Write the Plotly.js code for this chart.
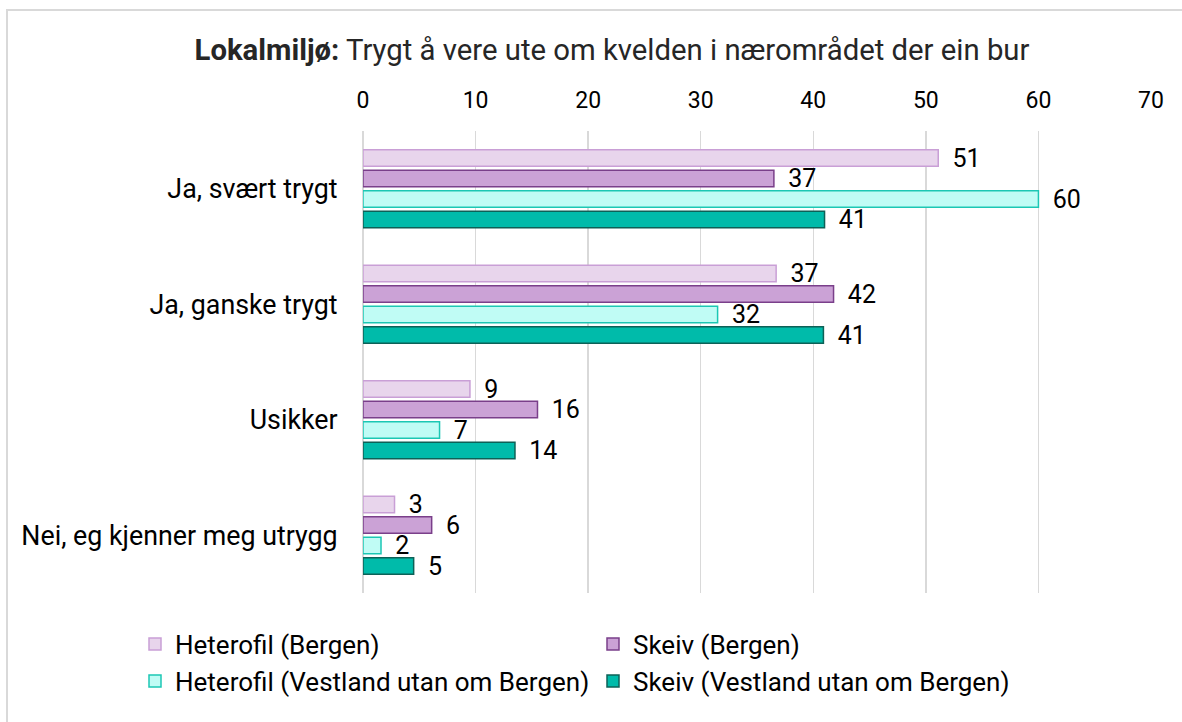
<!DOCTYPE html>
<html>
<head>
<meta charset="utf-8">
<script src="https://cdn.plot.ly/plotly-3.0.1.min.js"></script>
<style>html,body{margin:0;padding:0;background:#fff;}#chart{width:1182px;height:722px;}</style>
</head>
<body>
<div id="chart"></div>
<script>
const categories = ["Ja, svært trygt", "Ja, ganske trygt", "Usikker", "Nei, eg kjenner meg utrygg"];
const seriesNames = ["Heterofil (Bergen)", "Skeiv (Bergen)", "Heterofil (Vestland utan om Bergen)", "Skeiv (Vestland utan om Bergen)"];
const heteroBergen = [51.1, 36.7, 9.5, 2.8];
const skeivBergen = [36.5, 41.8, 15.5, 6.1];
const heteroVestland = [60.0, 31.5, 6.8, 1.6];
const skeivVestland = [41.0, 40.9, 13.5, 4.5];
const heteroBergenLabels = ["51", "37", "9", "3"];
const skeivBergenLabels = ["37", "42", "16", "6"];
const heteroVestlandLabels = ["60", "32", "7", "2"];
const skeivVestlandLabels = ["41", "41", "14", "5"];
const xTicks = [0, 10, 20, 30, 40, 50, 60, 70];

const fills = ["#e8d5ec", "#cba2d6", "#c0fcf5", "#00bbaa"];
const lines = ["#c99fd6", "#7a3f8a", "#1cc7b4", "#0d6157"];
const values = [heteroBergen, skeivBergen, heteroVestland, skeivVestland];
const labels = [heteroBergenLabels, skeivBergenLabels, heteroVestlandLabels, skeivVestlandLabels];

const data = values.map((v, i) => ({
  type: "bar",
  orientation: "h",
  name: seriesNames[i],
  y: categories,
  x: v,
  text: labels[i],
  texttemplate: "\u00a0\u2009%{text}",
  textposition: "outside",
  constraintext: "none",
  cliponaxis: false,
  textfont: {family: "Roboto, sans-serif", size: 25, color: "#000"},
  marker: {color: fills[i], line: {color: lines[i], width: 1.5}},
  hoverinfo: "x+name"
}));

const layout = {
  width: 1182, height: 722,
  font: {family: "Roboto, sans-serif", color: "#000"},
  paper_bgcolor: "#fff", plot_bgcolor: "#fff",
  margin: {l: 363, r: 31, t: 131, b: 129},
  title: {
    text: "<b>Lokalmiljø:</b> Trygt å vere ute om kvelden i nærområdet der ein bur",
    font: {family: "Roboto, sans-serif", size: 29.3, color: "#262626"},
    x: 612 / 1182, xref: "container", xanchor: "center",
    y: 1 - 50 / 722, yref: "container", yanchor: "middle"
  },
  barmode: "group",
  bargap: 0.29,
  bargroupgap: 0.2,
  showlegend: true,
  legend: {
    orientation: "h",
    x: (135 - 363) / 788, xanchor: "left",
    y: -0.06, yanchor: "top",
    entrywidth: 413, entrywidthmode: "pixels",
    traceorder: "normal",
    font: {family: "Roboto, sans-serif", size: 26, color: "#000"},
    itemwidth: 30,
    tracegroupgap: 0
  },
  xaxis: {
    side: "top",
    range: [0, 70],
    tickvals: xTicks,
    ticktext: xTicks.map(String),
    showgrid: true, gridcolor: "#d9d9d9", gridwidth: 1.5,
    zeroline: true, zerolinecolor: "#d9d9d9", zerolinewidth: 1.5,
    showline: false,
    ticks: "outside", ticklen: 13, tickcolor: "rgba(0,0,0,0)",
    tickfont: {family: "Roboto, sans-serif", size: 23, color: "#000"},
    fixedrange: true
  },
  yaxis: {
    type: "category",
    autorange: "reversed",
    showgrid: false, zeroline: false, showline: false,
    ticks: "outside", ticklen: 19, tickcolor: "rgba(0,0,0,0)",
    tickfont: {family: "Roboto, sans-serif", size: 26.8, color: "#000"},
    fixedrange: true
  },
  shapes: [{
    type: "rect", xref: "paper", yref: "paper",
    x0: (7 - 363) / 788, x1: (1195 - 363) / 788,
    y0: (593 - 735) / 462, y1: (593 - 10) / 462,
    line: {color: "#d9d9d9", width: 2}, fillcolor: "rgba(0,0,0,0)", layer: "below"
  }]
};

Plotly.newPlot("chart", data, layout, {displayModeBar: false, staticPlot: true});
</script>
</body>
</html>
